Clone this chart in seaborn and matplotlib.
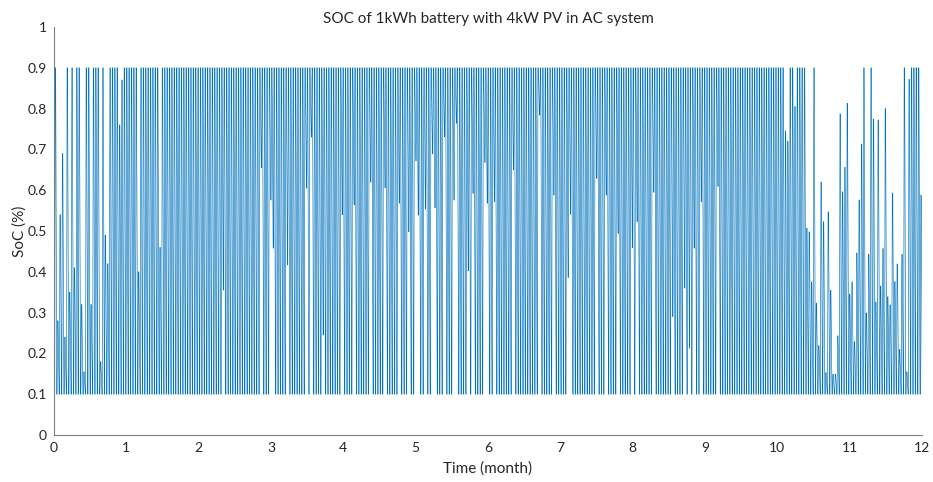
import numpy as np
import pandas as pd
import matplotlib
matplotlib.use("Agg")
import matplotlib.pyplot as plt
import seaborn as sns

# Daily maximum state of charge (fraction), one value per day of the year
soc_peak = [
    0.90, 0.28, 0.54, 0.69, 0.24, 0.90, 0.35, 0.90, 0.41, 0.90, 0.90, 0.32, 0.155, 0.90, 0.90, 0.32, 0.90, 0.90, 0.90, 0.18,
    0.90, 0.49, 0.42, 0.90, 0.90, 0.90, 0.90, 0.76, 0.87, 0.90, 0.90, 0.90, 0.90, 0.90, 0.90, 0.40, 0.90, 0.90, 0.90, 0.90,
    0.90, 0.90, 0.90, 0.90, 0.46, 0.90, 0.90, 0.90, 0.90, 0.90, 0.90, 0.90, 0.90, 0.90, 0.90, 0.90, 0.90, 0.90, 0.90, 0.90,
    0.90, 0.90, 0.90, 0.90, 0.90, 0.90, 0.90, 0.90, 0.90, 0.90, 0.90, 0.90, 0.90, 0.90, 0.90, 0.90, 0.90, 0.90, 0.90, 0.90,
    0.90, 0.90, 0.90, 0.90, 0.90, 0.90, 0.90, 0.90, 0.90, 0.90, 0.90, 0.90, 0.90, 0.90, 0.90, 0.90, 0.90, 0.90, 0.90, 0.90,
    0.90, 0.90, 0.90, 0.90, 0.90, 0.90, 0.90, 0.90, 0.90, 0.90, 0.90, 0.90, 0.90, 0.90, 0.90, 0.90, 0.90, 0.90, 0.90, 0.90,
    0.90, 0.90, 0.90, 0.90, 0.90, 0.90, 0.90, 0.90, 0.90, 0.90, 0.90, 0.90, 0.90, 0.90, 0.90, 0.90, 0.90, 0.90, 0.90, 0.90,
    0.90, 0.90, 0.90, 0.90, 0.90, 0.90, 0.90, 0.90, 0.90, 0.90, 0.90, 0.90, 0.90, 0.90, 0.90, 0.90, 0.90, 0.90, 0.90, 0.90,
    0.90, 0.90, 0.90, 0.90, 0.90, 0.90, 0.90, 0.90, 0.90, 0.90, 0.90, 0.90, 0.90, 0.90, 0.90, 0.90, 0.90, 0.90, 0.90, 0.90,
    0.90, 0.90, 0.90, 0.90, 0.90, 0.90, 0.90, 0.90, 0.90, 0.90, 0.90, 0.90, 0.90, 0.90, 0.90, 0.90, 0.90, 0.90, 0.90, 0.90,
    0.90, 0.90, 0.90, 0.90, 0.90, 0.90, 0.90, 0.90, 0.90, 0.90, 0.90, 0.90, 0.90, 0.90, 0.90, 0.90, 0.90, 0.90, 0.90, 0.90,
    0.90, 0.90, 0.90, 0.90, 0.90, 0.90, 0.90, 0.90, 0.90, 0.90, 0.90, 0.90, 0.90, 0.90, 0.90, 0.90, 0.90, 0.90, 0.90, 0.90,
    0.90, 0.90, 0.90, 0.90, 0.90, 0.90, 0.90, 0.90, 0.90, 0.90, 0.90, 0.90, 0.90, 0.90, 0.90, 0.90, 0.90, 0.90, 0.90, 0.90,
    0.90, 0.90, 0.90, 0.90, 0.90, 0.90, 0.90, 0.90, 0.90, 0.90, 0.90, 0.90, 0.90, 0.90, 0.90, 0.90, 0.90, 0.90, 0.90, 0.90,
    0.90, 0.90, 0.90, 0.90, 0.90, 0.90, 0.90, 0.90, 0.90, 0.90, 0.90, 0.90, 0.90, 0.90, 0.90, 0.90, 0.90, 0.90, 0.90, 0.90,
    0.90, 0.90, 0.90, 0.90, 0.90, 0.90, 0.90, 0.745, 0.72, 0.90, 0.90, 0.805, 0.90, 0.90, 0.90, 0.90, 0.507, 0.498, 0.375, 0.90,
    0.323, 0.219, 0.62, 0.523, 0.153, 0.547, 0.355, 0.149, 0.149, 0.243, 0.787, 0.596, 0.656, 0.813, 0.345, 0.375, 0.229, 0.446, 0.576, 0.713,
    0.90, 0.299, 0.443, 0.90, 0.774, 0.326, 0.772, 0.365, 0.457, 0.80, 0.339, 0.319, 0.593, 0.376, 0.419, 0.21, 0.443, 0.90, 0.155, 0.872,
    0.90, 0.90, 0.90, 0.90, 0.588,
]

# Mornings when the battery had not fully discharged overnight
carryover_day = [71, 87, 91, 92, 98, 106, 108, 113, 121, 126, 133, 139, 145, 149, 152,
                 153, 156, 159, 160, 164, 168, 169, 174, 176, 181, 182, 185, 193, 204, 210,
                 216, 217, 228, 232, 237, 243, 245, 252, 260, 265, 267, 269, 272, 279]
carryover_soc = [0.355, 0.655, 0.576, 0.458, 0.417, 0.605, 0.73, 0.245, 0.54, 0.564, 0.62, 0.606, 0.568, 0.498, 0.672,
                 0.539, 0.554, 0.689, 0.557, 0.731, 0.576, 0.764, 0.402, 0.592, 0.668, 0.568, 0.572, 0.65, 0.784, 0.588,
                 0.386, 0.541, 0.629, 0.588, 0.494, 0.459, 0.523, 0.595, 0.29, 0.36, 0.213, 0.458, 0.572, 0.609]

soc_min = 0.1
x_ticks = list(range(0, 13))
y_ticks = [0, 0.1, 0.2, 0.3, 0.4, 0.5, 0.6, 0.7, 0.8, 0.9, 1]
y_ticklabels = ["0", "0.1", "0.2", "0.3", "0.4", "0.5", "0.6", "0.7", "0.8", "0.9", "1"]

# Morning level of each day
n_days = len(soc_peak)
soc_morning = np.full(n_days + 1, soc_min)
soc_morning[carryover_day] = carryover_soc

# Daily cycle: charge late morning, hold at midday, discharge through the evening and night
t, s = [], []
for d in range(n_days):
    t += [d + 0.30, d + 0.50, d + 0.70, d + 1.15]
    s += [soc_morning[d], soc_peak[d], soc_peak[d], soc_morning[d + 1]]
days_per_month = n_days / 12
df = pd.DataFrame({"month": np.array(t) / days_per_month, "soc": s})

sns.set_style("white")
plt.rcParams["font.family"] = ["Lato", "DejaVu Sans"]
text_col = "#262626"

fig = plt.figure(figsize=(9.33, 4.82), dpi=100)
ax = fig.add_axes([54 / 933, 47 / 482, 868 / 933, 408 / 482])
sns.lineplot(data=df, x="month", y="soc", estimator=None, sort=False,
             color="#0072BD", linewidth=0.45, ax=ax)

ax.set_xlim(0, 12)
ax.set_ylim(0, 1)
ax.set_xticks(x_ticks)
ax.set_xticklabels([str(v) for v in x_ticks])
ax.set_yticks(y_ticks)
ax.set_yticklabels(y_ticklabels)
ax.tick_params(direction="in", length=6.5, width=0.6, color="#808080",
               labelsize=10, labelcolor=text_col, pad=5)
for side in ["top", "right"]:
    ax.spines[side].set_visible(False)
for side in ["left", "bottom"]:
    ax.spines[side].set_color("#808080")
    ax.spines[side].set_linewidth(0.8)

ax.set_xlabel("Time (month)", fontsize=11, color=text_col, labelpad=5)
ax.set_ylabel("SoC (%)", fontsize=11, color=text_col, labelpad=1)
ax.set_title("SOC of 1kWh battery with 4kW PV in AC system", fontsize=11, color=text_col, pad=3)

fig.savefig("out.png", dpi=100)
